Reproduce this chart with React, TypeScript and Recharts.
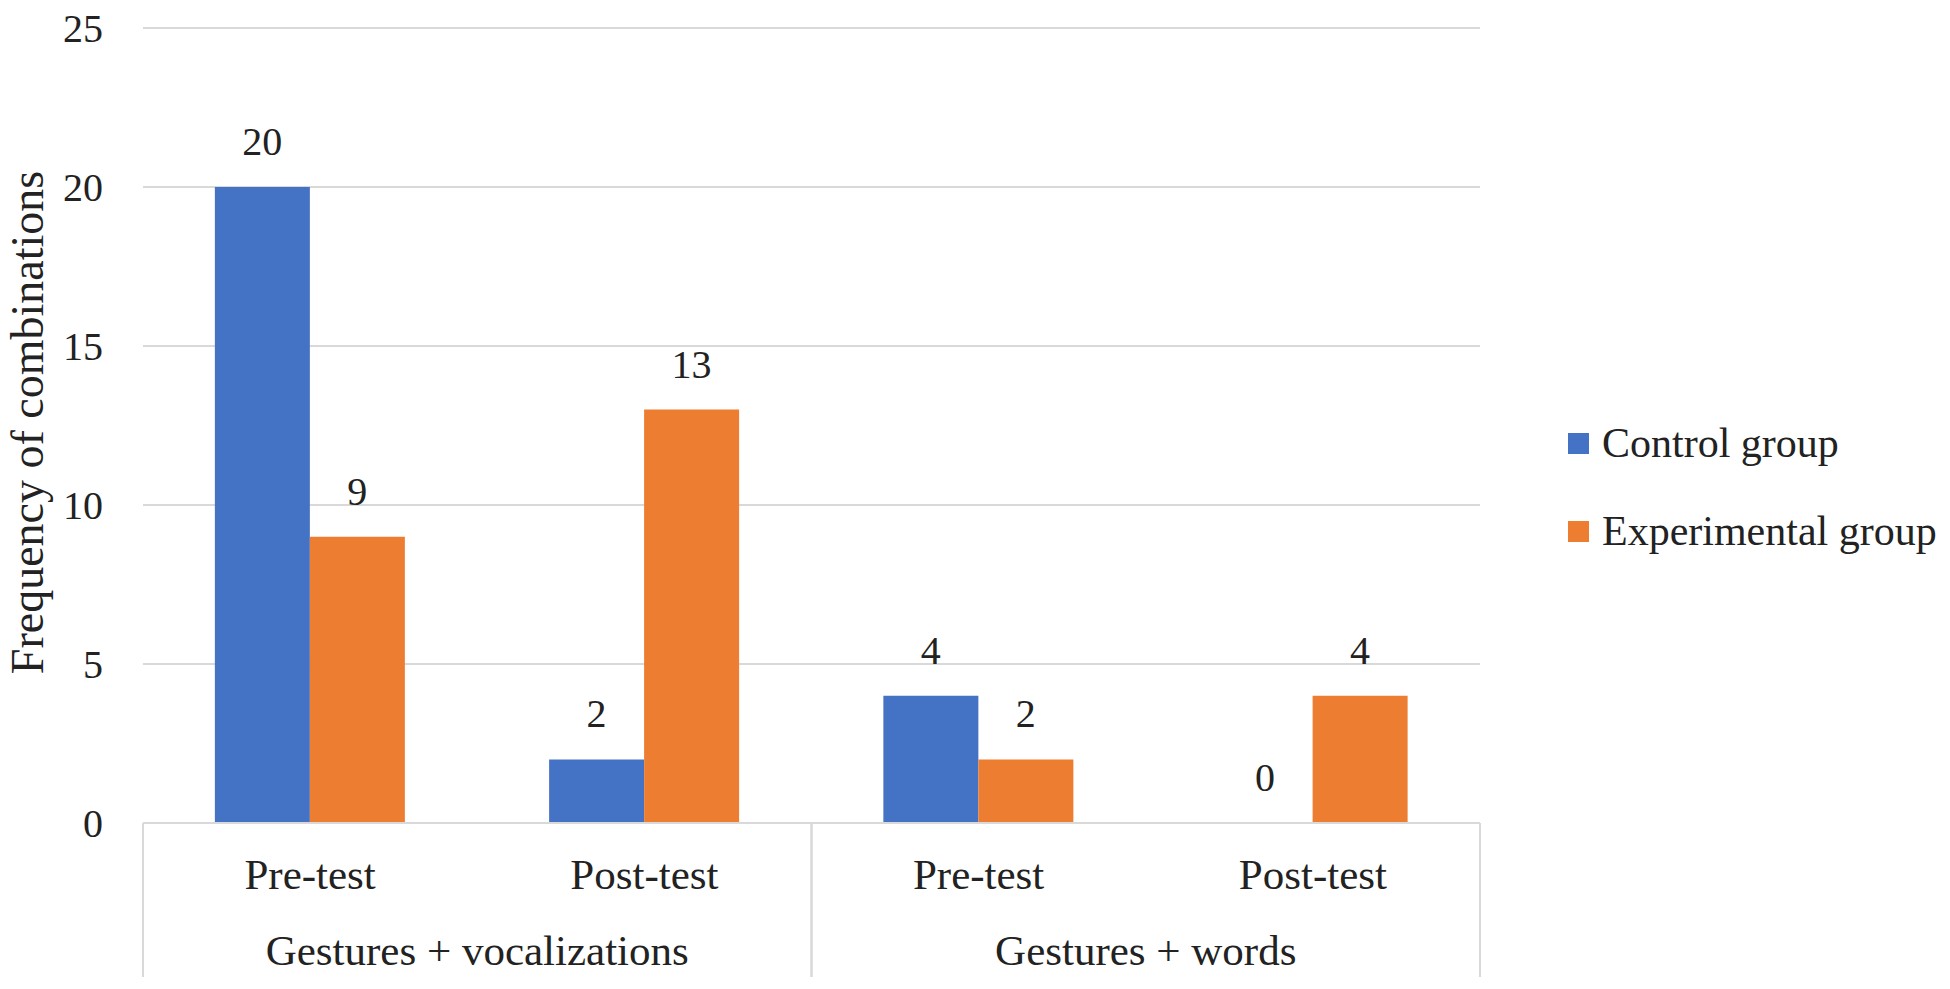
import { Bar, BarChart, CartesianGrid, LabelList, Legend, XAxis, YAxis } from "recharts"

const phases = ["Pre-test", "Post-test", "Pre-test", "Post-test"]
const groups = ["Gestures + vocalizations", "Gestures + vocalizations", "Gestures + words", "Gestures + words"]
const controlGroup = [20, 2, 4, 0]
const experimentalGroup = [9, 13, 2, 4]
const yTicks = [0, 5, 10, 15, 20, 25]

const data = phases.map((phase, i) => ({
  phase,
  group: groups[i],
  control: controlGroup[i],
  experimental: experimentalGroup[i],
}))

const W = 1950
const H = 989
const PLOT_LEFT = 143
const PLOT_RIGHT = 1480
const HALF_BAND = (PLOT_RIGHT - PLOT_LEFT) / phases.length / 2
const FONT = "'Liberation Serif', 'Times New Roman', serif"
const TEXT = "#222222"
const GRID = "#d9d9d9"

// two-level category axis: phase on the first row, group name + dividers below
function CategoryTick(props: any) {
  const { x, y, index } = props
  const g = groups[index]
  const isFirst = index === 0 || groups[index - 1] !== g
  const isLast = index === groups.length - 1 || groups[index + 1] !== g
  const count = groups.filter((v) => v === g).length
  return (
    <g>
      <text x={x} y={y + 51} textAnchor="middle" dominantBaseline="central" fontFamily={FONT} fontSize={43} fill={TEXT}>
        {phases[index]}
      </text>
      {isFirst && (
        <>
          <line x1={x - HALF_BAND} x2={x - HALF_BAND} y1={y} y2={y + 154} stroke={GRID} strokeWidth={2} />
          <text
            x={x - HALF_BAND + count * HALF_BAND}
            y={y + 127}
            textAnchor="middle"
            dominantBaseline="central"
            fontFamily={FONT}
            fontSize={43}
            fill={TEXT}
          >
            {g}
          </text>
        </>
      )}
      {isLast && <line x1={x + HALF_BAND} x2={x + HALF_BAND} y1={y} y2={y + 154} stroke={GRID} strokeWidth={2} />}
    </g>
  )
}

function LegendContent(props: any) {
  const { payload } = props
  return (
    <div style={{ fontFamily: FONT, fontSize: 42, color: TEXT }}>
      {(payload || []).map((entry: any) => (
        <div key={entry.value} style={{ display: "flex", alignItems: "center", height: 44, marginBottom: 44, whiteSpace: "nowrap" }}>
          <span style={{ display: "inline-block", width: 21, height: 21, background: entry.color, marginRight: 13 }} />
          <span>{entry.value}</span>
        </div>
      ))}
    </div>
  )
}

export default function App() {
  return (
    <div style={{ position: "absolute", left: 0, top: 0, width: W, height: H, background: "#fff" }}>
      <BarChart
        width={W}
        height={H}
        data={data}
        margin={{ top: 28, right: W - PLOT_RIGHT, bottom: 0, left: 0 }}
        barCategoryGap="21.5%"
        barGap={0}
      >
        <CartesianGrid vertical={false} stroke={GRID} strokeWidth={2} />
        <XAxis
          dataKey="phase"
          height={166}
          tickLine={false}
          tickSize={0}
          tickMargin={0}
          axisLine={{ stroke: GRID, strokeWidth: 2 }}
          interval={0}
          tick={<CategoryTick />}
        />
        <YAxis
          width={PLOT_LEFT}
          domain={[0, 25]}
          ticks={yTicks}
          tickLine={false}
          axisLine={false}
          tickSize={0}
          tickMargin={40}
          tick={{ fontFamily: FONT, fontSize: 40, fill: TEXT }}
          label={{
            content: (p: any) => {
              const vb = p.viewBox || { x: 0, y: 28, height: 795 }
              const cx = vb.x + 27
              const cy = vb.y + vb.height / 2 - 3
              return (
                <text
                  x={cx}
                  y={cy}
                  transform={`rotate(-90, ${cx}, ${cy})`}
                  textAnchor="middle"
                  dominantBaseline="central"
                  fontFamily={FONT}
                  fontSize={46}
                  fill={TEXT}
                >
                  Frequency of combinations
                </text>
              )
            },
          }}
        />
        <Legend
          layout="vertical"
          align="center"
          verticalAlign="middle"
          content={<LegendContent />}
          wrapperStyle={{ left: 1568, top: 421, width: "auto" }}
        />
        <Bar dataKey="control" name="Control group" fill="#4472C4" minPointSize={0.01} isAnimationActive={false}>
          <LabelList dataKey="control" position="top" offset={32} fontFamily={FONT} fontSize={40} fill={TEXT} />
        </Bar>
        <Bar dataKey="experimental" name="Experimental group" fill="#ED7D31" isAnimationActive={false}>
          <LabelList dataKey="experimental" position="top" offset={32} fontFamily={FONT} fontSize={40} fill={TEXT} />
        </Bar>
      </BarChart>
    </div>
  )
}
